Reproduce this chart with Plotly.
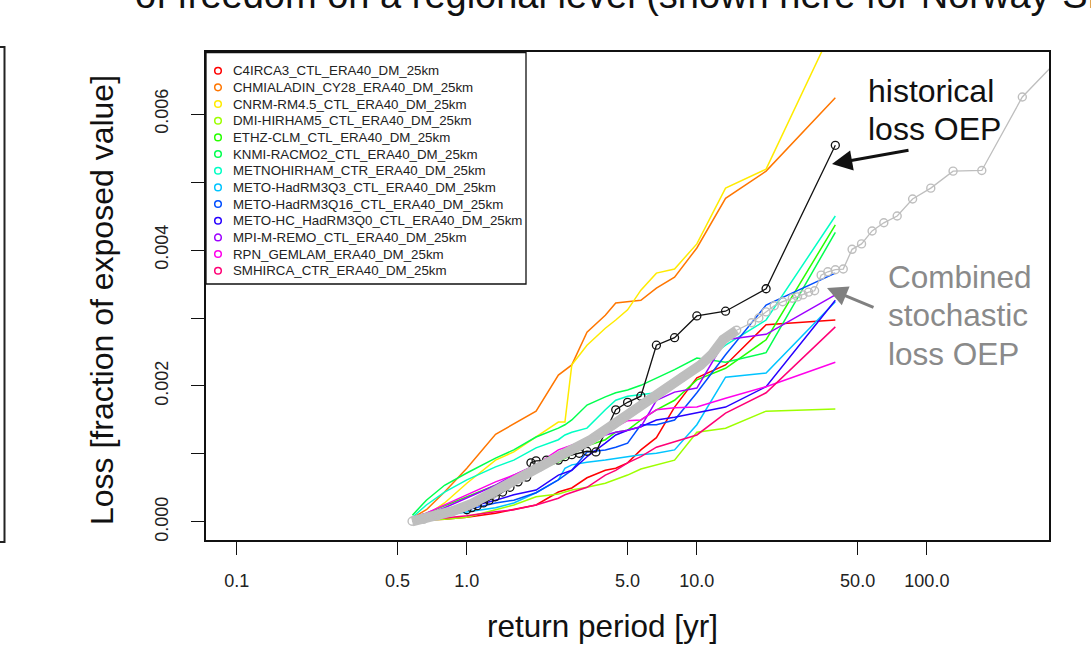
import plotly.graph_objects as go

# ---------------- data ----------------
MODEL_NAMES = [
    "C4IRCA3_CTL_ERA40_DM_25km", "CHMIALADIN_CY28_ERA40_DM_25km", "CNRM-RM4.5_CTL_ERA40_DM_25km",
    "DMI-HIRHAM5_CTL_ERA40_DM_25km", "ETHZ-CLM_CTL_ERA40_DM_25km", "KNMI-RACMO2_CTL_ERA40_DM_25km",
    "METNOHIRHAM_CTR_ERA40_DM_25km", "METO-HadRM3Q3_CTL_ERA40_DM_25km", "METO-HadRM3Q16_CTL_ERA40_DM_25km",
    "METO-HC_HadRM3Q0_CTL_ERA40_DM_25km", "MPI-M-REMO_CTL_ERA40_DM_25km", "RPN_GEMLAM_ERA40_DM_25km",
    "SMHIRCA_CTR_ERA40_DM_25km",
]
MODEL_COLORS = ["#FF0000", "#FF7600", "#FFEB00", "#9DFF00", "#27FF00", "#00FF4E", "#00FFC4",
                "#00C4FF", "#004EFF", "#2700FF", "#9D00FF", "#FF00EB", "#FF0076"]

# return periods [yr] of the model curves
T_MODEL = [40, 20, 13.33, 10, 8, 6.67, 5.71, 5, 4.44, 4, 3.33, 2.86, 2.67, 2.5, 2, 1.6, 1.333, 1, 0.8, 0.667, 0.58]

LOSS_C4IRCA3 = [0.00297, 0.00290, 0.00231, 0.00212, 0.00169, 0.00124, 0.00106, 0.00087, 0.00079, 0.00076, 0.00065,
                0.00050, 0.00047, 0.00044, 0.00025, 0.00018, 0.00013, 0.00007, 0.00004, 0.00003, 0.00001]
LOSS_CHMIALADIN = [0.00624, 0.00516, 0.00476, 0.00403, 0.00360, 0.00344, 0.00326, 0.00324, 0.00322, 0.00304, 0.00279,
                   0.00231, 0.00224, 0.00216, 0.00163, 0.00144, 0.00129, 0.00079, 0.00044, 0.00018, 0.00006]
LOSS_CNRM = [0.00734, 0.00519, 0.00491, 0.00409, 0.00372, 0.00366, 0.00341, 0.00312, 0.00297, 0.00285, 0.00260,
             0.00231, 0.00147, 0.00147, 0.00125, 0.00103, 0.00091, 0.00057, 0.00028, 0.00010, 0.00006]
LOSS_DMI = [0.00166, 0.00163, 0.00138, 0.00132, 0.00091, 0.00084, 0.00078, 0.00069, 0.00062, 0.00057, 0.00051,
            0.00047, 0.00044, 0.00041, 0.00037, 0.00025, 0.00018, 0.00007, 0.00004, 0.00003, 0.00001]
LOSS_ETHZ = [0.00437, 0.00268, 0.00226, 0.00209, 0.00179, 0.00165, 0.00150, 0.00135, 0.00132, 0.00121, 0.00112,
             0.00099, 0.00094, 0.00088, 0.00076, 0.00065, 0.00054, 0.00037, 0.00024, 0.00013, 0.00006]
LOSS_KNMI = [0.00426, 0.00249, 0.00235, 0.00241, 0.00224, 0.00212, 0.00201, 0.00194, 0.00190, 0.00184, 0.00172,
             0.00150, 0.00143, 0.00138, 0.00125, 0.00106, 0.00094, 0.00072, 0.00054, 0.00032, 0.00010]
LOSS_METNO = [0.00450, 0.00297, 0.00260, 0.00228, 0.00204, 0.00190, 0.00187, 0.00185, 0.00179, 0.00165, 0.00138,
              0.00132, 0.00128, 0.00121, 0.00109, 0.00091, 0.00081, 0.00062, 0.00044, 0.00025, 0.00007]
LOSS_Q3 = [0.00324, 0.00219, 0.00213, 0.00143, 0.00106, 0.00101, 0.00099, 0.00096, 0.00094, 0.00091, 0.00088,
           0.00084, 0.00079, 0.00062, 0.00043, 0.00028, 0.00021, 0.00015, 0.00010, 0.00006, 0.00003]
LOSS_Q16 = [0.00366, 0.00319, 0.00246, 0.00190, 0.00150, 0.00143, 0.00143, 0.00116, 0.00110, 0.00106, 0.00103,
            0.00076, 0.00069, 0.00062, 0.00043, 0.00032, 0.00028, 0.00018, 0.00010, 0.00006, 0.00003]
LOSS_Q0 = [0.00326, 0.00199, 0.00169, 0.00160, 0.00154, 0.00150, 0.00140, 0.00135, 0.00128, 0.00116, 0.00096,
           0.00076, 0.00072, 0.00069, 0.00047, 0.00040, 0.00032, 0.00021, 0.00012, 0.00006, 0.00003]
LOSS_MPI = [0.00334, 0.00276, 0.00268, 0.00197, 0.00191, 0.00179, 0.00140, 0.00135, 0.00132, 0.00128, 0.00118,
            0.00112, 0.00109, 0.00099, 0.00084, 0.00069, 0.00054, 0.00035, 0.00021, 0.00010, 0.00004]
LOSS_RPN = [0.00235, 0.00199, 0.00182, 0.00169, 0.00168, 0.00165, 0.00150, 0.00149, 0.00140, 0.00128, 0.00121,
            0.00113, 0.00110, 0.00106, 0.00084, 0.00069, 0.00059, 0.00040, 0.00025, 0.00013, 0.00007]
LOSS_SMHI = [0.00287, 0.00190, 0.00160, 0.00128, 0.00118, 0.00110, 0.00096, 0.00087, 0.00076, 0.00069, 0.00051,
             0.00044, 0.00040, 0.00035, 0.00025, 0.00018, 0.00015, 0.00009, 0.00006, 0.00003, 0.00001]

MODEL_LOSSES = [LOSS_C4IRCA3, LOSS_CHMIALADIN, LOSS_CNRM, LOSS_DMI, LOSS_ETHZ, LOSS_KNMI, LOSS_METNO,
                LOSS_Q3, LOSS_Q16, LOSS_Q0, LOSS_MPI, LOSS_RPN, LOSS_SMHI]

# historical loss OEP
T_HIST = [40, 20, 13.33, 10, 8, 6.67, 5.71, 5, 4.44, 3.64, 3.33, 3.08, 2.86, 2.67, 2.5, 2.22, 2.0, 1.9,
          1.82, 1.67, 1.54, 1.43, 1.33, 1.25, 1.18, 1.11, 1.05, 1.0]
LOSS_HIST = [0.00554, 0.00343, 0.00310, 0.00303, 0.00271, 0.00260, 0.00185, 0.00176, 0.00165, 0.00103, 0.00104,
             0.00101, 0.00099, 0.00096, 0.00091, 0.00091, 0.00090, 0.00087, 0.00066, 0.00059, 0.00051, 0.00044,
             0.00037, 0.00032, 0.00028, 0.00024, 0.00021, 0.00018]

# combined stochastic loss OEP
T_COMB = [520, 260, 173.3, 130, 104, 86.7, 74.3, 65, 57.8, 52, 47.3, 43.3, 40, 37.1, 34.7, 32.5, 30.6, 28.9,
          27.4, 26, 23.6, 21.7, 20, 18.6, 17.3, 14.9, 13, 11.6, 10.4, 8.67, 7.43, 6.5, 5.2, 4.33, 3.47, 2.6,
          2.08, 1.73, 1.486, 1.3, 1.04, 0.867, 0.743, 0.65, 0.578]
LOSS_COMB = [0.00731, 0.00625, 0.00517, 0.00516, 0.00491, 0.00475, 0.00450, 0.00440, 0.00428, 0.00409, 0.00401,
             0.00372, 0.00371, 0.00368, 0.00363, 0.00340, 0.00338, 0.00334, 0.00331, 0.00329, 0.00324, 0.00318,
             0.00309, 0.00300, 0.00293, 0.00282, 0.00268, 0.00246, 0.00231, 0.00213, 0.00197, 0.00182, 0.00162,
             0.00143, 0.00121, 0.00099, 0.00081, 0.00066, 0.00053, 0.00041, 0.00026, 0.00016, 0.00009, 0.00004,
             0.00001]

X_TICKS = [0.1, 0.5, 1, 5, 10, 50, 100]
X_TICKTEXT = ["0.1", "0.5", "1.0", "5.0", "10.0", "50.0", "100.0"]
Y_TICKS = [0, 0.001, 0.002, 0.003, 0.004, 0.005, 0.006]
Y_TICKTEXT = ["0.000", "", "0.002", "", "0.004", "", "0.006"]

# ---------------- layout helpers (pixel -> paper) ----------------
W, H = 1091, 646
PL, PR, PT, PB = 206, 1049, 52, 540
FONT = "Liberation Sans, Arial, sans-serif"


def xp(px):
    return (px - PL) / (PR - PL)


def yp(py):
    return (PB - py) / (PB - PT)


fig = go.Figure()

for name, color, losses in zip(MODEL_NAMES, MODEL_COLORS, MODEL_LOSSES):
    fig.add_trace(go.Scatter(x=T_MODEL, y=losses, mode="lines", name=name,
                             line=dict(color=color, width=1.5), showlegend=False, hoverinfo="skip"))

fig.add_trace(go.Scatter(x=T_HIST, y=LOSS_HIST, mode="lines+markers", name="historical",
                         line=dict(color="#111111", width=1.3),
                         marker=dict(symbol="circle-open", size=8, color="#111111", line=dict(width=1.3)),
                         showlegend=False, hoverinfo="skip"))

# dense part of the combined curve (overlapping circles form a thick band)
band_x = [t for t in T_COMB if t <= 15]
band_y = [l for t, l in zip(T_COMB, LOSS_COMB) if t <= 15]
fig.add_trace(go.Scatter(x=band_x, y=band_y, mode="lines", line=dict(color="#bebebe", width=10),
                         showlegend=False, hoverinfo="skip"))
fig.add_trace(go.Scatter(x=T_COMB, y=LOSS_COMB, mode="lines+markers", name="combined",
                         line=dict(color="#bebebe", width=1.3),
                         marker=dict(symbol="circle-open", size=8, color="#bebebe", line=dict(width=1.4)),
                         showlegend=False, hoverinfo="skip"))

shapes = []
annotations = []

# legend box
LEG_TOP, LEG_BOTTOM, LEG_RIGHT = 52.7, 284, 526
shapes.append(dict(type="rect", xref="paper", yref="paper", x0=xp(PL), x1=xp(LEG_RIGHT),
                   y0=yp(LEG_BOTTOM), y1=yp(LEG_TOP), line=dict(color="#111111", width=1.3),
                   fillcolor="white", layer="above"))
for i, (name, color) in enumerate(zip(MODEL_NAMES, MODEL_COLORS)):
    yy = 70.7 + 16.67 * i
    shapes.append(dict(type="circle", xref="paper", yref="paper", xsizemode="pixel", ysizemode="pixel",
                       xanchor=xp(218), yanchor=yp(yy), x0=-3.3, x1=3.3, y0=-3.3, y1=3.3,
                       line=dict(color=color, width=1.5), layer="above"))
    annotations.append(dict(xref="paper", yref="paper", x=xp(231), y=yp(yy), text=name, showarrow=False,
                            xanchor="left", yanchor="middle", font=dict(family=FONT, size=13.3, color="#222222")))

# left partial frame
shapes.append(dict(type="rect", xref="paper", yref="paper", x0=xp(-30), x1=xp(4.5), y0=yp(542), y1=yp(47),
                   line=dict(color="#222222", width=2)))

# axis titles
annotations.append(dict(xref="paper", yref="paper", x=xp(602), y=yp(626), text="return period [yr]",
                        showarrow=False, xanchor="center", yanchor="middle",
                        font=dict(family=FONT, size=31.5, color="#111111")))
annotations.append(dict(xref="paper", yref="paper", x=xp(102), y=yp(300), text="Loss [fraction of exposed value]",
                        showarrow=False, xanchor="center", yanchor="middle", textangle=-90,
                        font=dict(family=FONT, size=32, color="#111111")))

# cut-off heading at top (the reference shows only its lower part)
annotations.append(dict(xref="paper", yref="paper", x=xp(133), y=yp(-5),
                        text="of freedom on a regional level (shown here for Norway-SE)",
                        showarrow=False, xanchor="left", yanchor="middle",
                        font=dict(family=FONT, size=38, color="#111111")))

# text annotations
for txt, yy in [("historical", 91), ("loss OEP", 129)]:
    annotations.append(dict(xref="paper", yref="paper", x=xp(866), y=yp(yy), text=txt, showarrow=False,
                            xanchor="left", yanchor="middle", font=dict(family=FONT, size=32, color="#111111")))
for txt, yy in [("Combined", 277), ("stochastic", 315), ("loss OEP", 354)]:
    annotations.append(dict(xref="paper", yref="paper", x=xp(886), y=yp(yy), text=txt, showarrow=False,
                            xanchor="left", yanchor="middle", font=dict(family=FONT, size=31.5, color="#8a8a8a")))

# arrows
annotations.append(dict(xref="paper", yref="paper", x=xp(832), y=yp(164), ax=78, ay=-14, text="",
                        showarrow=True, arrowhead=2, arrowsize=1.35, arrowwidth=3, arrowcolor="#111111"))
annotations.append(dict(xref="paper", yref="paper", x=xp(827), y=yp(288), ax=48, ay=20, text="",
                        showarrow=True, arrowhead=2, arrowsize=1.35, arrowwidth=3, arrowcolor="#808080"))

fig.update_layout(
    width=W, height=H,
    margin=dict(l=PL, r=W - PR, t=PT, b=H - PB, pad=0),
    paper_bgcolor="white", plot_bgcolor="white",
    showlegend=False,
    shapes=shapes, annotations=annotations,
    font=dict(family=FONT),
)
fig.update_xaxes(type="log", range=[-1.134, 2.531], tickvals=X_TICKS, ticktext=X_TICKTEXT,
                 ticks="outside", ticklen=13, tickwidth=1, tickcolor="#111111",
                 showline=True, linecolor="#111111", linewidth=1.5, mirror=True,
                 showgrid=False, zeroline=False, ticklabelstandoff=11,
                 tickfont=dict(family=FONT, size=18, color="#222222"))
fig.update_yaxes(range=[-0.000265, 0.006912], tickvals=Y_TICKS, ticktext=Y_TICKTEXT, tickangle=-90,
                 ticks="outside", ticklen=13, tickwidth=1, tickcolor="#111111",
                 showline=True, linecolor="#111111", linewidth=1.5, mirror=True,
                 showgrid=False, zeroline=False, ticklabelstandoff=16,
                 tickfont=dict(family=FONT, size=18, color="#222222"))

fig.write_html("out.html")
